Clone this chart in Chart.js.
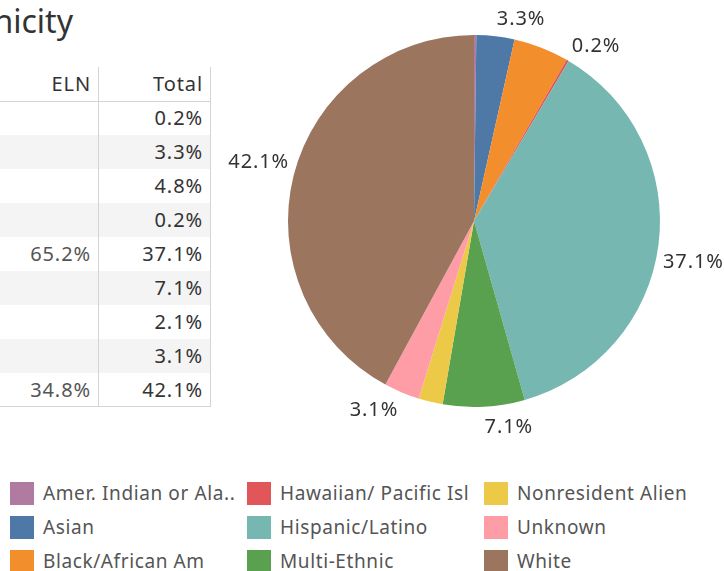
<!DOCTYPE html>
<html>
<head>
<meta charset="utf-8">
<script src="https://cdn.jsdelivr.net/npm/chart.js@4.4.1/dist/chart.umd.min.js"></script>
<style>
  body { margin: 0; width: 724px; height: 571px; overflow: hidden; background: #fff;
         font-family: "Noto Sans", sans-serif; position: relative; }
  #title { position: absolute; right: 651px; top: -1px; font-size: 32px; color: #333;
           white-space: nowrap; line-height: 44px; }
  #table { position: absolute; left: 0; top: 67px; width: 211px; height: 340px; }
  .cell { position: absolute; font-size: 20px; letter-spacing: 0.9px; line-height: 34px; text-align: right; white-space: nowrap; }
  .band { position: absolute; left: 0; width: 210px; height: 34px; background: #f4f4f4; }
  .vline { position: absolute; top: 0; width: 1px; height: 340px; background: #d4d4d4; }
  .hline { position: absolute; left: 0; width: 210px; height: 1px; background: #d4d4d4; }
  #pieBox { position: absolute; left: 224px; top: 0; width: 500px; height: 442px; }
  #legend { position: absolute; left: 10px; top: 476px; display: grid; grid-auto-flow: column;
            grid-template-rows: repeat(3, 34px); grid-template-columns: repeat(3, 237px); }
  .item { display: flex; align-items: center; font-size: 19px; letter-spacing: 0.6px; color: #555; white-space: nowrap; }
  .swatch { width: 24px; height: 23px; margin-right: 9px; flex: none; }
</style>
</head>
<body>
<div id="title">Race/Ethnicity</div>
<div id="table"></div>
<div id="pieBox"><canvas id="pieChart" width="500" height="442"></canvas></div>
<div id="legend"></div>
<script>
// categorias e valores
const categories = ['Amer. Indian or Ala..', 'Asian', 'Black/African Am', 'Hawaiian/ Pacific Isl',
  'Hispanic/Latino', 'Multi-Ethnic', 'Nonresident Alien', 'Unknown', 'White'];
const totalPct = [0.2, 3.3, 4.8, 0.2, 37.1, 7.1, 2.1, 3.1, 42.1];
const elnPct = [null, null, null, null, 65.2, null, null, null, 34.8];
const sliceColors = ['#b07aa1', '#4e79a7', '#f28e2b', '#e15759', '#76b7b2', '#59a14f', '#edc948', '#ff9da7', '#9c755f'];
const labelShown = [false, true, false, true, true, true, false, true, true];
const columnHeaders = ['ELN', 'Total'];

// tabela
const table = document.getElementById('table');
const rowH = 34;
let html = '';
categories.forEach((c, i) => {
    if (i % 2 === 1) html += `<div class="band" style="top:${rowH * (i + 1)}px"></div>`;
});
html += `<div class="hline" style="top:${rowH}px"></div>`;
html += `<div class="hline" style="top:${rowH * (categories.length + 1) - 1}px"></div>`;
html += `<div class="vline" style="left:98px"></div><div class="vline" style="left:210px"></div>`;
html += `<div class="cell" style="right:${211 - 91}px;top:0;color:#333">${columnHeaders[0]}</div>`;
html += `<div class="cell" style="right:${211 - 203}px;top:0;color:#333">${columnHeaders[1]}</div>`;
categories.forEach((c, i) => {
    const top = rowH * (i + 1);
    if (elnPct[i] !== null) {
        html += `<div class="cell" style="right:${211 - 91}px;top:${top}px;color:#555">${elnPct[i].toFixed(1)}%</div>`;
    }
    html += `<div class="cell" style="right:${211 - 203}px;top:${top}px;color:#333">${totalPct[i].toFixed(1)}%</div>`;
});
table.innerHTML = html;

// rótulos fora da pizza
const outsideLabels = {
    id: 'outsideLabels',
    afterDatasetsDraw(chart) {
        const ctx = chart.ctx;
        const meta = chart.getDatasetMeta(0);
        ctx.save();
        ctx.font = '20px "Noto Sans", sans-serif';
        ctx.letterSpacing = '0.9px';
        ctx.fillStyle = '#333';
        ctx.textBaseline = 'middle';
        meta.data.forEach((arc, i) => {
            if (!labelShown[i]) return;
            const p = arc.getProps(['x', 'y', 'startAngle', 'endAngle', 'outerRadius'], true);
            const mid = (p.startAngle + p.endAngle) / 2;
            const dx = Math.cos(mid), dy = Math.sin(mid);
            const d = p.outerRadius + 12 - 7.5 * Math.abs(dx);
            const x = p.x + dx * d;
            const y = p.y + dy * d + Math.sign(dy) * (16 - 9 * Math.abs(dy)) + 1.5;
            ctx.textAlign = dx >= 0 ? 'left' : 'right';
            ctx.fillText(totalPct[i].toFixed(1) + '%', x, y);
        });
        ctx.restore();
    }
};

const pieCtx = document.getElementById('pieChart').getContext('2d');
const pieChart = new Chart(pieCtx, {
    type: 'pie',
    data: {
        labels: categories,
        datasets: [{
            data: totalPct,
            backgroundColor: sliceColors,
            borderWidth: 0,
        }]
    },
    options: {
        responsive: false,
        animation: false,
        layout: { padding: { left: 64, right: 64, top: 35, bottom: 35 } },
        plugins: {
            legend: { display: false },
            tooltip: { enabled: false }
        }
    },
    plugins: [outsideLabels]
});

// legenda
const legend = document.getElementById('legend');
legend.innerHTML = pieChart.data.labels.map((l, i) =>
    `<div class="item"><span class="swatch" style="background:${sliceColors[i]}"></span>${l}</div>`
).join('');
</script>
</body>
</html>
